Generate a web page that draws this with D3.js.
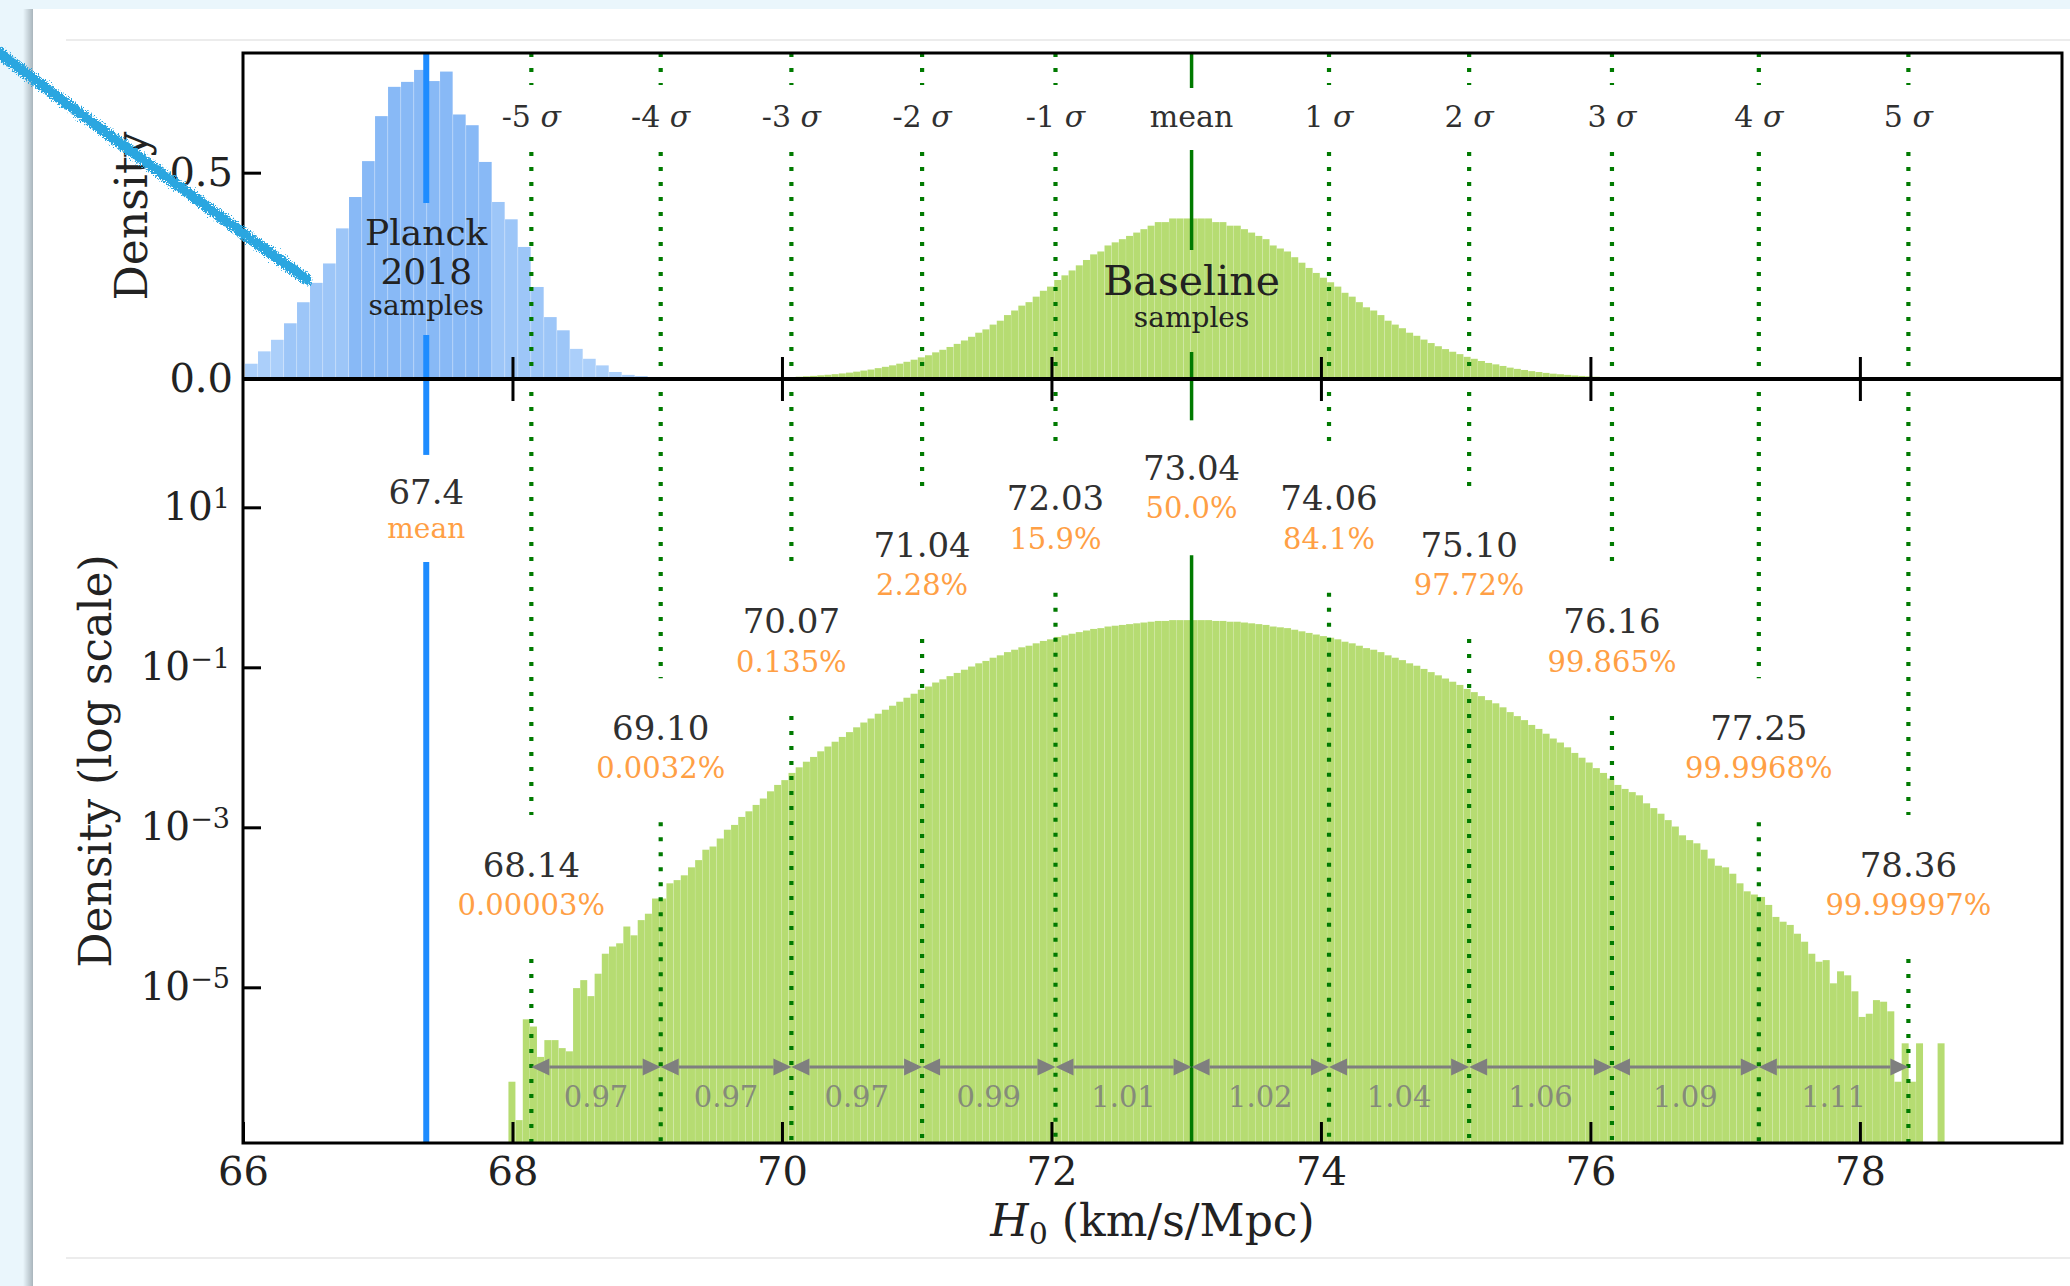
<!DOCTYPE html>
<html>
<head>
<meta charset="utf-8">
<script src="https://cdn.jsdelivr.net/npm/d3@7"></script>
<style>
  html, body { margin: 0; padding: 0; background: #eaf6fc; }
  svg { display: block; }
  text { font-family: 'DejaVu Serif', serif; }
</style>
</head>
<body>
<svg id="chart" width="2070" height="1286"></svg>
<script>
// ---- data ----
const sigmaNames = ['-5', '-4', '-3', '-2', '-1', 'mean', '1', '2', '3', '4', '5'];
const sigmaValues = [68.14, 69.10, 70.07, 71.04, 72.03, 73.04, 74.06, 75.10, 76.16, 77.25, 78.36];
const valueLabels = ['68.14', '69.10', '70.07', '71.04', '72.03', '73.04', '74.06', '75.10', '76.16', '77.25', '78.36'];
const percentLabels = ['0.00003%', '0.0032%', '0.135%', '2.28%', '15.9%', '50.0%',
  '84.1%', '97.72%', '99.865%', '99.9968%', '99.99997%'];
// log10 density at which each value label sits
const labelLevels = [-3.46, -1.75, -0.42, 0.54, 1.12, 1.50, 1.12, 0.54, -0.42, -1.75, -3.46];
const spacingLabels = ['0.97', '0.97', '0.97', '0.99', '1.01', '1.02', '1.04', '1.06', '1.09', '1.11'];

const xTicks = [66, 68, 70, 72, 74, 76, 78];
const midTicks = [68, 70, 72, 74, 76, 78];
const topYTicks = [0, 0.5];
const logYTicks = [1e1, 1e-1, 1e-3, 1e-5];

// Planck 2018 samples histogram (linear density)
const planckStart = 66.015;
const planckBinWidth = 0.0965;
const planckDensity = [
  0.037, 0.067, 0.095, 0.135, 0.186, 0.233, 0.280, 0.365, 0.441, 0.528,
  0.637, 0.708, 0.720, 0.749, 0.722, 0.745, 0.641, 0.615, 0.526, 0.429,
  0.387, 0.320, 0.223, 0.150, 0.118, 0.073, 0.049, 0.033, 0.017, 0.010,
  0.007, 0.005, 0.003, 0.002, 0.002, 0.001,
];
const planckMean = 67.36;
const planckMeanLabel = '67.4';
const planckSigma = 0.535;
const planckLabelLevel = 1.18;

// Baseline samples histogram (log10 density, null = empty bin)
const baselineStart = 67.97;
const baselineBinWidth = 0.0533;
const baselineLogDensity = [
  -6.18, -6.66, -5.40, -5.49, -5.87, -5.66, -5.66, -5.76, -5.80, -5.01,
  -4.91, -5.11, -4.83, -4.58, -4.49, -4.45, -4.24, -4.35, -4.16, -4.08,
  -3.89, -3.89, -3.70, -3.66, -3.60, -3.50, -3.41, -3.28, -3.24, -3.14,
  -3.03, -2.97, -2.87, -2.80, -2.72, -2.64, -2.55, -2.47, -2.41, -2.32,
  -2.25, -2.18, -2.12, -2.05, -1.99, -1.93, -1.87, -1.81, -1.75, -1.69,
  -1.64, -1.58, -1.53, -1.48, -1.43, -1.38, -1.33, -1.28, -1.24, -1.19,
  -1.15, -1.11, -1.07, -1.03, -0.99, -0.95, -0.92, -0.88, -0.85, -0.81,
  -0.78, -0.75, -0.73, -0.70, -0.67, -0.65, -0.62, -0.60, -0.58, -0.56,
  -0.54, -0.52, -0.51, -0.49, -0.48, -0.47, -0.46, -0.45, -0.44, -0.43,
  -0.42, -0.42, -0.41, -0.41, -0.41, -0.41, -0.41, -0.41, -0.42, -0.42,
  -0.43, -0.43, -0.44, -0.45, -0.46, -0.47, -0.49, -0.50, -0.51, -0.53,
  -0.55, -0.57, -0.59, -0.61, -0.63, -0.65, -0.68, -0.70, -0.73, -0.76,
  -0.78, -0.81, -0.85, -0.88, -0.91, -0.95, -0.98, -1.02, -1.06, -1.10,
  -1.14, -1.18, -1.22, -1.27, -1.31, -1.36, -1.41, -1.45, -1.50, -1.56,
  -1.61, -1.66, -1.72, -1.77, -1.83, -1.89, -1.94, -2.00, -2.07, -2.13,
  -2.19, -2.26, -2.32, -2.39, -2.47, -2.52, -2.56, -2.60, -2.70, -2.76,
  -2.83, -2.91, -2.99, -3.10, -3.16, -3.20, -3.28, -3.39, -3.48, -3.50,
  -3.58, -3.70, -3.80, -3.84, -3.87, -3.97, -4.12, -4.18, -4.22, -4.33,
  -4.43, -4.58, -4.68, -4.66, -4.95, -4.80, -4.85, -5.05, -5.37, -5.33,
  -5.16, -5.18, -5.30, -6.18, -5.70, -6.18, -5.70, null, null, -5.70,
];

// ---- layout ----
const W = 2070;
const H = 1286;
const L = 243;
const R = 2062;
const T = 53;
const M = 379; // shared axis between the two panels
const B = 1143;

const orange = '#ff9f45';
const darkText = '#303030';
const green = '#b6dc72';
const lineGreen = '#007a00';
const planckBlue = '#1e8cff';

const x = d3.scaleLinear().domain([66, 79.5]).range([L, R]);
const yTop = d3.scaleLinear().domain([0, 0.79]).range([M, T]);
const yLog = d3.scaleLog().domain([10 ** -6.946, 10 ** 2.604]).range([B, M]);

const svg = d3.select('#chart');
const defs = svg.append('defs');

// page background with the white card
const shade = defs.append('linearGradient').attr('id', 'cardShadow');
shade.append('stop').attr('offset', '0%').attr('stop-color', '#eaf6fc');
shade.append('stop').attr('offset', '100%').attr('stop-color', '#a9b5bc');

svg.append('rect').attr('width', W).attr('height', H).attr('fill', '#eaf6fc');
svg.append('rect').attr('x', 23).attr('y', 9).attr('width', 10).attr('height', H)
  .attr('fill', 'url(#cardShadow)');
svg.append('rect').attr('x', 33).attr('y', 9).attr('width', W - 33).attr('height', H)
  .attr('fill', '#fff');
[40, 1258].forEach((yy) => {
  svg.append('line').attr('x1', 66).attr('x2', W).attr('y1', yy).attr('y2', yy)
    .attr('stroke', '#e6e6e6').attr('stroke-width', 1.5);
});

defs.append('clipPath').attr('id', 'clipTop')
  .append('rect').attr('x', L).attr('y', T).attr('width', R - L).attr('height', M - T);
defs.append('clipPath').attr('id', 'clipBottom')
  .append('rect').attr('x', L).attr('y', M).attr('width', R - L).attr('height', B - M);

// ---- histograms ----
const planckBins = planckDensity.map((d, i) => ({
  x0: planckStart + (i * planckBinWidth),
  x1: planckStart + ((i + 1) * planckBinWidth),
  density: d,
}));

const baselineBins = baselineLogDensity
  .map((v, i) => ({
    x0: baselineStart + (i * baselineBinWidth),
    x1: baselineStart + ((i + 1) * baselineBinWidth),
    density: v === null ? null : 10 ** v,
  }))
  .filter(b => b.density !== null);

// shading of Planck bars: inside 1 sigma, inside 2 sigma, outside
function planckShade(b) {
  const dist = Math.abs(((b.x0 + b.x1) / 2) - planckMean) / planckSigma;
  if (dist < 1) return '#88b9f6';
  if (dist < 2) return '#9dc6f8';
  return '#abcffa';
}

const topPanel = svg.append('g').attr('clip-path', 'url(#clipTop)');
const bottomPanel = svg.append('g').attr('clip-path', 'url(#clipBottom)');

topPanel.selectAll('rect.planck')
  .data(planckBins)
  .enter().append('rect')
  .classed('planck', true)
  .attr('x', d => x(d.x0))
  .attr('width', d => x(d.x1) - x(d.x0) - 0.4)
  .attr('y', d => yTop(d.density))
  .attr('height', d => M - yTop(d.density))
  .attr('fill', planckShade);

topPanel.selectAll('rect.base')
  .data(baselineBins)
  .enter().append('rect')
  .classed('base', true)
  .attr('x', d => x(d.x0))
  .attr('width', d => x(d.x1) - x(d.x0) - 0.2)
  .attr('y', d => yTop(d.density))
  .attr('height', d => M - yTop(d.density))
  .attr('fill', green);

bottomPanel.selectAll('rect.base')
  .data(baselineBins)
  .enter().append('rect')
  .classed('base', true)
  .attr('x', d => x(d.x0))
  .attr('width', d => x(d.x1) - x(d.x0) - 0.2)
  .attr('y', d => yLog(d.density))
  .attr('height', d => B - yLog(d.density))
  .attr('fill', green);

// ---- vertical marker lines, broken around their labels ----
function segmentsBetween(y0, y1, gaps) {
  const segs = [];
  let start = y0;
  gaps.slice().sort((a, b) => a[0] - b[0]).forEach(([g0, g1]) => {
    if (g0 > start) segs.push([start, g0]);
    start = Math.max(start, g1);
  });
  if (start < y1) segs.push([start, y1]);
  return segs;
}

const lines = svg.append('g');
const notes = svg.append('g');

function drawBroken(xPos, gaps, color, width, dash) {
  segmentsBetween(T, B, gaps).forEach(([a, b]) => {
    lines.append('line')
      .attr('x1', xPos).attr('x2', xPos)
      .attr('y1', a).attr('y2', b)
      .attr('stroke', color)
      .attr('stroke-width', width)
      .attr('stroke-dasharray', dash);
  });
}

function addText(parent, xPos, yPos, str, size, color) {
  return parent.append('text')
    .attr('x', xPos)
    .attr('y', yPos)
    .attr('text-anchor', 'middle')
    .attr('font-size', size)
    .attr('fill', color)
    .text(str);
}

sigmaValues.forEach((v, i) => {
  const xp = x(v);
  const numY = yLog(10 ** labelLevels[i]);
  const isMean = sigmaNames[i] === 'mean';

  if (isMean) {
    drawBroken(xp, [[88, 150], [250, 352], [numY - 47, numY + 88]], lineGreen, 3.5, null);
  } else {
    drawBroken(xp, [[85, 152], [numY - 49, numY + 95]], lineGreen, 4.2, '4 11');
  }

  // sigma names along the top
  const t = notes.append('text')
    .attr('x', xp).attr('y', 127)
    .attr('text-anchor', 'middle')
    .attr('font-size', 30)
    .attr('fill', darkText);
  if (isMean) {
    t.text('mean');
  } else {
    t.append('tspan').text(`${sigmaNames[i]} `);
    t.append('tspan').attr('font-style', 'italic').text('σ');
  }

  addText(notes, xp, numY + 12.5, valueLabels[i], 34, darkText);
  addText(notes, xp, numY + 51, percentLabels[i], 29, orange);
});

// Planck mean line and labels
const planckX = x(planckMean);
const planckY = yLog(10 ** planckLabelLevel);
drawBroken(planckX, [[203, 335], [planckY - 38, planckY + 69]], planckBlue, 6, null);
addText(notes, planckX, planckY + 11, planckMeanLabel, 34, darkText);
addText(notes, planckX, planckY + 45, 'mean', 28, orange);

addText(notes, planckX, 245, 'Planck', 36, '#222');
addText(notes, planckX, 284, '2018', 36, '#222');
addText(notes, planckX, 315, 'samples', 28, '#222');

const meanX = x(sigmaValues[sigmaNames.indexOf('mean')]);
addText(notes, meanX, 295, 'Baseline', 41, '#222');
addText(notes, meanX, 327, 'samples', 28, '#222');

// ---- spacing arrows between neighbouring sigma lines ----
const arrowY = 1067;
const headLen = 18;
const headHalf = 8.5;
const arrows = svg.append('g');
spacingLabels.forEach((lab, i) => {
  const x1 = x(sigmaValues[i]);
  const x2 = x(sigmaValues[i + 1]);
  arrows.append('line')
    .attr('x1', x1 + headLen).attr('x2', x2 - headLen)
    .attr('y1', arrowY).attr('y2', arrowY)
    .attr('stroke', '#7f7f7f').attr('stroke-width', 3);
  arrows.append('path')
    .attr('d', `M${x1},${arrowY}L${x1 + headLen},${arrowY - headHalf}L${x1 + headLen},${arrowY + headHalf}Z`
      + `M${x2},${arrowY}L${x2 - headLen},${arrowY - headHalf}L${x2 - headLen},${arrowY + headHalf}Z`)
    .attr('fill', '#7f7f7f');
  addText(arrows, (x1 + x2) / 2, arrowY + 40, lab, 29, '#858b7a');
});

// ---- axes ----
const xAxis = svg.append('g')
  .attr('transform', `translate(0,${B})`)
  .call(d3.axisBottom(x).tickValues(xTicks).tickFormat(d3.format('d'))
    .tickSizeInner(-21).tickSizeOuter(0));
xAxis.select('.domain').remove();
xAxis.attr('font-family', 'DejaVu Serif').attr('font-size', 40);
xAxis.selectAll('.tick line').attr('stroke', '#000').attr('stroke-width', 3);
xAxis.selectAll('.tick text').attr('y', 42).attr('dy', null).attr('fill', '#222');

const midAxis = svg.append('g')
  .attr('transform', `translate(0,${M})`)
  .call(d3.axisBottom(x).tickValues(midTicks).tickFormat('').tickSize(22));
midAxis.select('.domain').remove();
midAxis.selectAll('.tick line').attr('y1', -22).attr('stroke', '#000').attr('stroke-width', 3);

const topAxis = svg.append('g')
  .attr('transform', `translate(${L},0)`)
  .call(d3.axisLeft(yTop).tickValues(topYTicks).tickFormat(d3.format('.1f'))
    .tickSizeInner(-18).tickSizeOuter(0).tickPadding(10));
topAxis.select('.domain').remove();
topAxis.attr('font-family', 'DejaVu Serif').attr('font-size', 40);
topAxis.selectAll('.tick line').attr('stroke', '#000').attr('stroke-width', 3);
topAxis.selectAll('.tick text').attr('fill', '#222');

const logAxis = svg.append('g')
  .attr('transform', `translate(${L},0)`)
  .call(d3.axisLeft(yLog).tickValues(logYTicks)
    .tickSizeInner(-18).tickSizeOuter(0).tickPadding(13));
logAxis.select('.domain').remove();
logAxis.attr('font-family', 'DejaVu Serif').attr('font-size', 39);
logAxis.selectAll('.tick line').attr('stroke', '#000').attr('stroke-width', 3);
logAxis.selectAll('.tick text')
  .attr('fill', '#222')
  .text(null)
  .each(function addPower(d) {
    const exp = Math.round(Math.log10(d));
    const el = d3.select(this);
    el.append('tspan').text('10');
    el.append('tspan').attr('font-size', 27).attr('dy', -12)
      .text(exp < 0 ? `\u2212${-exp}` : `${exp}`);
  });

// frame
svg.append('rect')
  .attr('x', L).attr('y', T)
  .attr('width', R - L).attr('height', B - T)
  .attr('fill', 'none').attr('stroke', '#000').attr('stroke-width', 3);
svg.append('line')
  .attr('x1', L).attr('x2', R).attr('y1', M).attr('y2', M)
  .attr('stroke', '#000').attr('stroke-width', 4);

// axis titles
const xl = svg.append('text')
  .attr('x', (L + R) / 2).attr('y', 1236)
  .attr('text-anchor', 'middle').attr('font-size', 44).attr('fill', '#222');
xl.append('tspan').attr('font-style', 'italic').text('H');
xl.append('tspan').attr('font-size', 30).attr('dy', 8).text('0');
xl.append('tspan').attr('dy', -8).text(' (km/s/Mpc)');

svg.append('text')
  .attr('transform', `translate(111,${(M + B) / 2}) rotate(-90)`)
  .attr('text-anchor', 'middle').attr('font-size', 44).attr('fill', '#222')
  .text('Density (log scale)');
svg.append('text')
  .attr('transform', `translate(147,${(T + M) / 2}) rotate(-90)`)
  .attr('text-anchor', 'middle').attr('font-size', 44).attr('fill', '#222')
  .text('Density');

// hand-drawn blue stroke over the corner
const rough = defs.append('filter').attr('id', 'rough')
  .attr('x', '-10%').attr('y', '-20%').attr('width', '120%').attr('height', '140%');
rough.append('feTurbulence').attr('type', 'fractalNoise')
  .attr('baseFrequency', 0.7).attr('numOctaves', 3).attr('seed', 4).attr('result', 'noise');
rough.append('feDisplacementMap').attr('in', 'SourceGraphic').attr('in2', 'noise')
  .attr('scale', 9).attr('xChannelSelector', 'R').attr('yChannelSelector', 'G');

const scribble = [[-5, 50], [75, 110], [150, 165], [230, 224], [306, 279]];
const stroke = d3.line().curve(d3.curveBasis);
const marker = svg.append('g').attr('filter', 'url(#rough)');
marker.append('path')
  .attr('d', stroke(scribble))
  .attr('fill', 'none')
  .attr('stroke', '#2aa6e0')
  .attr('stroke-width', 11)
  .attr('stroke-linecap', 'round');
[[-3, -4], [3, 4]].forEach(([dx, dy]) => {
  marker.append('path')
    .attr('d', stroke(scribble.map(p => [p[0] + dx, p[1] + dy])))
    .attr('fill', 'none')
    .attr('stroke', '#2aa6e0')
    .attr('stroke-width', 4)
    .attr('stroke-linecap', 'round');
});
</script>
</body>
</html>
